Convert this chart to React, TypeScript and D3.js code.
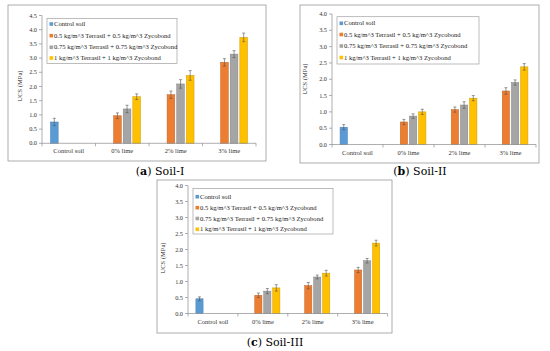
import * as d3 from 'd3'

// categories / series shared by all three panels
const categories = ['Control soil', '0% lime', '2% lime', '3% lime']
const seriesNames = [
  'Control soil',
  '0.5 kg/m^3 Terrasil + 0.5 kg/m^3 Zycobond',
  '0.75 kg/m^3 Terrasil + 0.75 kg/m^3 Zycobond',
  '1 kg/m^3 Terrasil + 1 kg/m^3 Zycobond',
]
const colors = ['#5B9BD5', '#ED7D31', '#A5A5A5', '#FFC000']

// Soil-I (UCS, MPa) — one array per series, null where no bar
const soil1Control = [0.75, null, null, null]
const soil1Low = [null, 0.97, 1.71, 2.85]
const soil1Mid = [null, 1.21, 2.09, 3.14]
const soil1High = [null, 1.64, 2.39, 3.73]
const soil1Err = [[0.13], [0.1, 0.13, 0.13], [0.13, 0.15, 0.12], [0.1, 0.17, 0.15]]

// Soil-II
const soil2Control = [0.53, null, null, null]
const soil2Low = [null, 0.69, 1.07, 1.64]
const soil2Mid = [null, 0.87, 1.21, 1.9]
const soil2High = [null, 1.0, 1.42, 2.38]
const soil2Err = [[0.08], [0.08, 0.08, 0.1], [0.07, 0.1, 0.08], [0.08, 0.08, 0.1]]

// Soil-III
const soil3Control = [0.46, null, null, null]
const soil3Low = [null, 0.57, 0.87, 1.36]
const soil3Mid = [null, 0.7, 1.14, 1.65]
const soil3High = [null, 0.8, 1.26, 2.2]
const soil3Err = [[0.06], [0.07, 0.1, 0.08], [0.08, 0.06, 0.07], [0.1, 0.09, 0.09]]

const yTicksI = d3.range(0, 4.51, 0.5)
const yTicksII = d3.range(0, 4.01, 0.5)

const font = 'Liberation Serif, Times New Roman, serif'
const capFont = 'DejaVu Serif, serif'

type PanelProps = {
  values: (number | null)[][]
  errs: number[][]
  yMax: number
  yTicks: number[]
  frame: [number, number, number, number]
  xr: [number, number]
  yr: [number, number]
  legend: [number, number, number, number]
  rows: number[]
  titleX: number
  titleY: number
  capX: number
  capY: number
  letter: string
  soil: string
}

const Panel = (p: PanelProps) => {
  const x0 = d3.scaleBand().domain(categories).range(p.xr).padding(0)
  const x1 = d3.scaleBand().domain(seriesNames).range([0, x0.bandwidth()])
    .paddingInner(0.2).paddingOuter(0.88)
  const y = d3.scaleLinear().domain([0, p.yMax]).range(p.yr)
  const [fx0, fy0, fx1, fy1] = p.frame
  const [lx0, ly0, lx1, ly1] = p.legend
  const axisColor = '#8c8c8c'
  const bounds = [...categories.map(c => x0(c)!), p.xr[1]]

  return (
    <g>
      <rect x={fx0} y={fy0} width={fx1 - fx0} height={fy1 - fy0} fill="#fff" stroke="#9a9a9a" strokeWidth={0.8} />
      {/* y axis */}
      <line x1={p.xr[0]} x2={p.xr[0]} y1={y(0)} y2={y(p.yMax)} stroke={axisColor} strokeWidth={0.7} />
      {p.yTicks.map(t => (
        <g key={t}>
          <line x1={p.xr[0] - 3} x2={p.xr[0]} y1={y(t)} y2={y(t)} stroke={axisColor} strokeWidth={0.7} />
          <text x={p.xr[0] - 5} y={y(t)} dy="0.33em" textAnchor="end" fontSize={6.3} fontFamily={font} fill="#333">
            {t.toFixed(1)}
          </text>
        </g>
      ))}
      <text transform={`translate(${p.titleX},${p.titleY}) rotate(-90)`} textAnchor="middle" fontSize={6.5} fontFamily={font} fill="#333">
        UCS (MPa)
      </text>
      {/* bars */}
      {p.values.map((vals, si) => {
        let k = 0
        return vals.map((v, ci) => {
          if (v == null) return null
          const e = p.errs[si][k++]
          const bx = x0(categories[ci])! + x1(seriesNames[si])!
          const bw = x1.bandwidth()
          const cx = bx + bw / 2
          return (
            <g key={`${si}-${ci}`}>
              <rect x={bx} y={y(v)} width={bw} height={y(0) - y(v)} fill={colors[si]}
                stroke={d3.color(colors[si])!.darker(0.6).formatHex()} strokeWidth={0.5} />
              <line x1={cx} x2={cx} y1={y(v + e)} y2={y(v - e)} stroke="#555" strokeWidth={0.6} />
              <line x1={cx - 1.5} x2={cx + 1.5} y1={y(v + e)} y2={y(v + e)} stroke="#555" strokeWidth={0.6} />
              <line x1={cx - 1.5} x2={cx + 1.5} y1={y(v - e)} y2={y(v - e)} stroke="#555" strokeWidth={0.6} />
            </g>
          )
        })
      })}
      {/* x axis */}
      <line x1={p.xr[0]} x2={p.xr[1]} y1={y(0)} y2={y(0)} stroke={axisColor} strokeWidth={0.7} />
      {bounds.map((b, i) => (
        <line key={i} x1={b} x2={b} y1={y(0)} y2={y(0) + 3} stroke={axisColor} strokeWidth={0.7} />
      ))}
      {categories.map(c => (
        <text key={c} x={x0(c)! + x0.bandwidth() / 2} y={y(0) + 10} textAnchor="middle" fontSize={6.5} fontFamily={font} fill="#333">
          {c}
        </text>
      ))}
      {/* legend */}
      <rect x={lx0} y={ly0} width={lx1 - lx0} height={ly1 - ly0} fill="#fff" stroke="#a0a0a0" strokeWidth={0.7} />
      {seriesNames.map((s, i) => (
        <g key={s}>
          <rect x={lx0 + 2.5} y={p.rows[i] - 1.8} width={3.6} height={3.6} fill={colors[i]} />
          <text x={lx0 + 7} y={p.rows[i]} dy="0.33em" fontSize={6.6} fontFamily={font} fill="#222">
            {s}
          </text>
        </g>
      ))}
      {/* caption */}
      <text x={p.capX} y={p.capY} textAnchor="middle" fontSize={11} fontFamily={capFont} fill="#000">
        (<tspan fontWeight="bold">{p.letter}</tspan>) {p.soil}
      </text>
    </g>
  )
}

export default function App() {
  return (
    <svg width={550} height={351} style={{ position: 'absolute', left: 0, top: 0, background: '#fff' }}>
      <Panel values={[soil1Control, soil1Low, soil1Mid, soil1High]} errs={soil1Err} yMax={4.5} yTicks={yTicksI}
        frame={[8, 5, 266, 161]} xr={[42, 256]} yr={[143.3, 15.5]} legend={[47, 18.5, 177, 63.5]}
        rows={[24, 35.7, 47.3, 58]} titleX={22} titleY={86} capX={160} capY={174.5} letter="a" soil="Soil-I" />
      <Panel values={[soil2Control, soil2Low, soil2Mid, soil2High]} errs={soil2Err} yMax={4.0} yTicks={yTicksII}
        frame={[300, 5, 539, 163]} xr={[332, 536]} yr={[144.5, 14]} legend={[337, 16.7, 479, 64]}
        rows={[23.3, 34.5, 46, 57.5]} titleX={307} titleY={79} capX={420} capY={174.5} letter="b" soil="Soil-II" />
      <Panel values={[soil3Control, soil3Low, soil3Mid, soil3High]} errs={soil3Err} yMax={4.0} yTicks={yTicksII}
        frame={[157, 180, 392, 333]} xr={[188, 387.6]} yr={[313.5, 185.5]} legend={[193, 188.5, 333, 234]}
        rows={[196.7, 207.7, 218.5, 229.3]} titleX={165} titleY={258} capX={275} capY={346} letter="c" soil="Soil-III" />
    </svg>
  )
}
